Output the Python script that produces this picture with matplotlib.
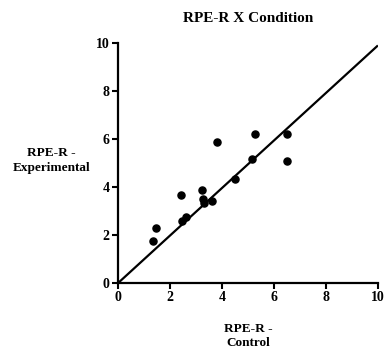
import matplotlib

matplotlib.use("Agg")
import matplotlib.pyplot as plt

# RPE-R scores, control vs experimental condition
control = [1.33, 1.45, 2.41, 2.45, 2.62, 3.24, 3.28, 3.31, 3.60, 3.80, 4.50, 5.14, 5.27, 6.49, 6.49]
experimental = [1.76, 2.28, 3.68, 2.60, 2.76, 3.88, 3.49, 3.35, 3.43, 5.89, 4.35, 5.17, 6.21, 6.21, 5.08]

line_x = [0, 10]
line_y = [0, 9.9]

ticks = [0, 2, 4, 6, 8, 10]

plt.rcParams.update({
    "font.family": "Liberation Serif",
    "font.weight": "bold",
})

fig = plt.figure(figsize=(3.88, 3.5), dpi=100)
ax = fig.add_axes([0.304, 0.191, 0.67, 0.686])

ax.plot(line_x, line_y, color="black", lw=1.6, solid_capstyle="butt", zorder=2)
ax.scatter(control, experimental, s=26, color="black", zorder=3, clip_on=False)

ax.set_xlim(0, 10)
ax.set_ylim(0, 10)
ax.set_xticks(ticks)
ax.set_yticks(ticks)
ax.tick_params(direction="out", length=4, width=1.5, labelsize=10, pad=2)
for lbl in ax.get_xticklabels() + ax.get_yticklabels():
    lbl.set_fontweight("bold")

for side in ("top", "right"):
    ax.spines[side].set_visible(False)
for side in ("left", "bottom"):
    ax.spines[side].set_linewidth(1.6)

ax.set_title("RPE-R X Condition", fontsize=11, fontweight="bold", pad=15)
ax.set_xlabel("RPE-R -\nControl", fontsize=9.5, fontweight="bold", labelpad=13,
              linespacing=1.25)
ax.set_ylabel("RPE-R -\nExperimental", fontsize=9.5, fontweight="bold",
              rotation=0, ha="center", va="center", labelpad=0, linespacing=1.3)
ax.yaxis.set_label_coords(-0.257, 0.51)

fig.savefig("out.png", dpi=100)
